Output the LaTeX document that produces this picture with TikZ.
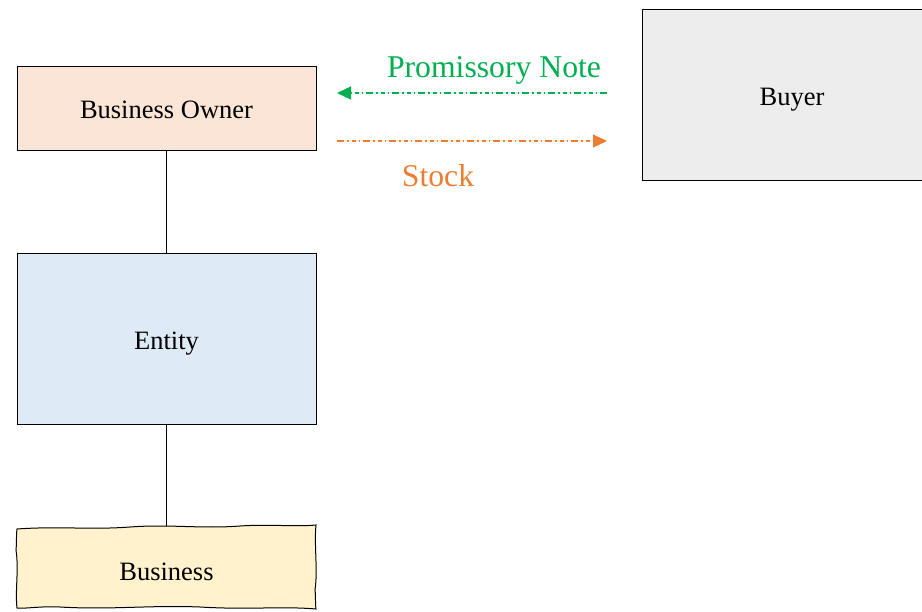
\documentclass[tikz,border=0pt]{standalone}
\usepackage{fontspec}
\setmainfont{Liberation Serif}
\usetikzlibrary{arrows.meta}
\definecolor{ownerfill}{HTML}{FBE5D6}
\definecolor{entityfill}{HTML}{DEEBF7}
\definecolor{bizfill}{HTML}{FFF2CC}
\definecolor{buyerfill}{HTML}{EDEDED}
\definecolor{notegreen}{HTML}{00B050}
\definecolor{stockorange}{HTML}{ED7D31}
\tikzset{
  boxtext/.style={font=\fontsize{26.5}{30}\selectfont, text height=26.5pt, text depth=5.3pt},
  party/.style={boxtext, draw=black, line width=0.9pt, minimum width=299pt, inner sep=0pt},
  flow/.style={line width=1.1pt, dash pattern=on 7pt off 3pt on 1.5pt off 3pt on 4pt off 3pt on 1.5pt off 3pt,
    -{Triangle[length=14pt,width=13pt]}},
  flowlabel/.style={font=\fontsize{31.7}{36}\selectfont, inner sep=0pt, text height=31.7pt, text depth=6.3pt},
  link/.style={line width=0.9pt, draw=black}
}
\begin{document}
\begin{tikzpicture}[x=1pt,y=-1pt]
\useasboundingbox (0,0) rectangle (922,612);
\clip (0,0) rectangle (922,612);

% boxes
\node[party, fill=ownerfill, minimum height=84pt] (owner) at (166.5,108) {Business Owner};
\node[party, fill=entityfill, minimum height=171pt] (entity) at (166.5,338.5) {Entity};
\node[party, fill=buyerfill, minimum height=171pt, minimum width=300pt] (buyer) at (792,94.5) {Buyer};

% hand-drawn business box
\filldraw[fill=bizfill, draw=black, line width=1pt]
  (17,529) .. controls (60,526) and (90,530) .. (130,527)
  .. controls (170,524) and (200,529) .. (240,526)
  .. controls (270,524) and (295,527) .. (316,525)
  .. controls (314,545) and (318,570) .. (315,590)
  .. controls (316,598) and (315,604) .. (316,609)
  .. controls (280,606) and (250,610) .. (200,607)
  .. controls (150,605) and (110,610) .. (60,607)
  .. controls (40,606) and (25,609) .. (17,608)
  .. controls (15,590) and (19,570) .. (16,550)
  .. controls (17,540) and (16,534) .. (17,529) -- cycle;
\node[boxtext, inner sep=0pt] (business) at (166.5,569.5) {Business};
\coordinate (biztop) at (166,526);

% connectors
\draw[link] (owner.south -| 166,0) -- (entity.north -| 166,0);
\draw[link] (entity.south -| 166,0) -- (biztop);

% flows between owner and buyer
\coordinate (noteS) at (607,93);
\coordinate (noteE) at (337,93);
\coordinate (stockS) at (337,141);
\coordinate (stockE) at (607,141);
\draw[flow, draw=notegreen, fill=notegreen] (noteS) -- (noteE);
\draw[flow, draw=stockorange, fill=stockorange] (stockS) -- (stockE);
\node[flowlabel, text=notegreen] (notelbl) at (494,64.5) {Promissory Note};
\node[flowlabel, text=stockorange] (stocklbl) at (438,174) {Stock};
\end{tikzpicture}
\end{document}
